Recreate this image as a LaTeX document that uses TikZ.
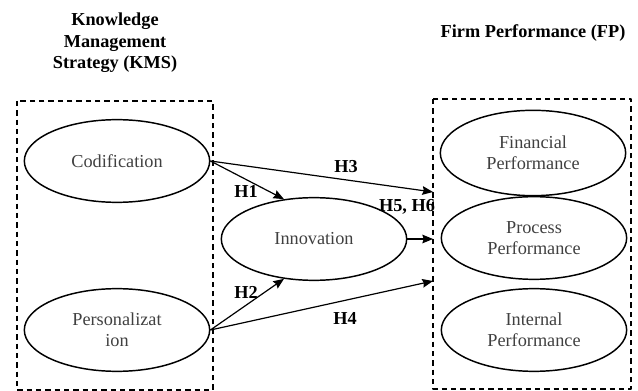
\documentclass[tikz,border=0pt]{standalone}
\usepackage{fontspec}
\setmainfont{Liberation Serif}
\usetikzlibrary{shapes.geometric,arrows.meta}

\begin{document}
\begin{tikzpicture}[x=0.75pt, y=-0.75pt, >={Stealth[length=8pt,width=6.5pt,inset=1pt]}, line join=round,
  construct/.style={ellipse, draw, line width=1.1pt, minimum width=139pt, minimum height=62pt,
    inner sep=0pt, align=center, text=black!75, font=\fontsize{13.7}{15.7}\selectfont},
  groupbox/.style={draw, line width=1pt, dash pattern=on 4pt off 3pt},
  hpath/.style={->, line width=0.9pt},
  hyp/.style={inner sep=1pt, font=\bfseries\fontsize{13.7}{15.7}\selectfont},
  blocktitle/.style={align=center, font=\bfseries\fontsize{13.7}{16.1}\selectfont}]
  \useasboundingbox (0,0) rectangle (638,391);
  % group boxes
  \draw[groupbox] (17,101) rectangle (213,390);
  \draw[groupbox] (433,99) rectangle (631,389);
  \coordinate (FPa) at (433,192);
  \coordinate (FPb) at (433,239);
  \coordinate (FPc) at (433,281);
  % titles
  \node[blocktitle] (KMS) at (115,43) {Knowledge\\Management\\Strategy (KMS)};
  \node[blocktitle] (FP) at (533,33) {Firm Performance (FP)};
  % constructs
  \node[construct] (Cod) at (117,161) {Codification};
  \node[construct] (Per) at (117,330) {Personalizat\\ion};
  \node[construct] (Inn) at (314,239) {Innovation};
  \node[construct, minimum height=64pt] (Fin) at (533,153) {Financial\\Performance};
  \node[construct] (Pro) at (534,238) {Process\\Performance};
  \node[construct] (Int) at (534,330) {Internal\\Performance};
  % hypotheses
  \draw[hpath] (Cod.east) -- (Inn.127);
  \draw[hpath] (Per.east) -- (Inn.233);
  \draw[hpath] (Cod.east) -- (FPa);
  \draw[hpath] (Per.east) -- (FPc);
  \draw[hpath] (Inn.east) -- (FPb);
  \node[hyp] (H1) at (246,191) {H1};
  \node[hyp] (H2) at (246,292) {H2};
  \node[hyp] (H3) at (346,167) {H3};
  \node[hyp] (H4) at (345,318) {H4};
  \node[hyp] (H56) at (407,207) {H5, H6};
\end{tikzpicture}
\end{document}
